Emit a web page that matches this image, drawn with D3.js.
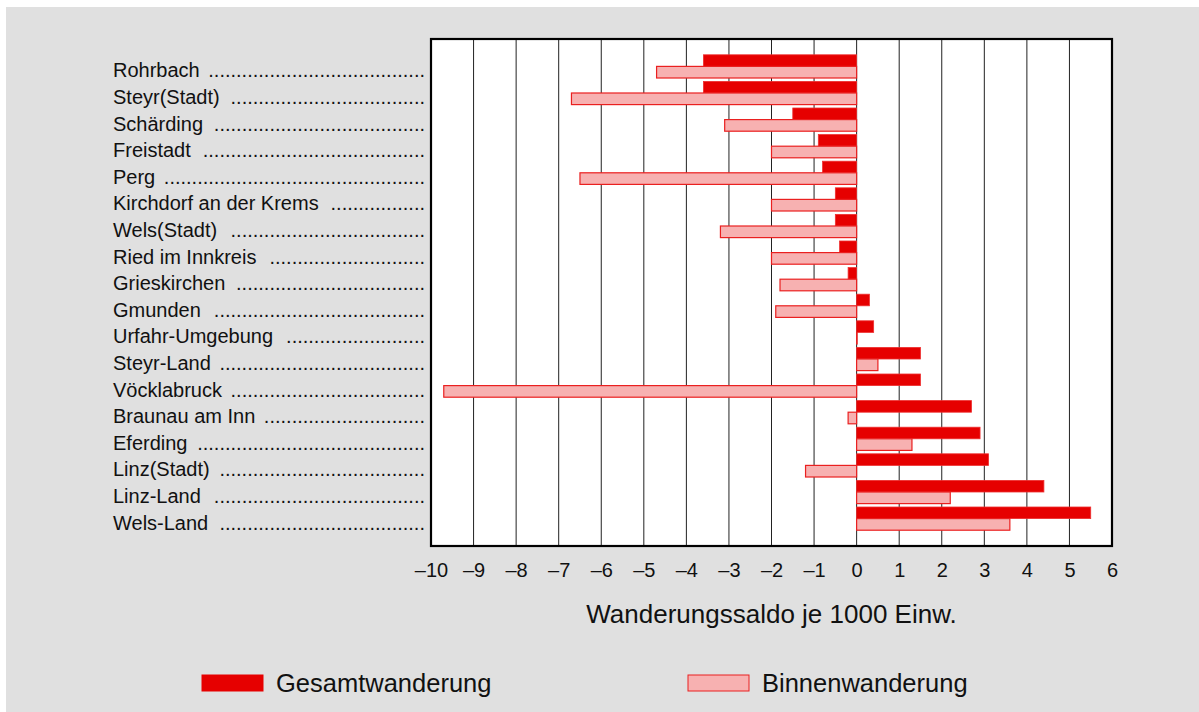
<!DOCTYPE html>
<html>
<head>
<meta charset="utf-8">
<script src="https://cdn.jsdelivr.net/npm/d3@7"></script>
<style>
  html, body { margin: 0; padding: 0; background: #fff; }
  svg { display: block; font-family: "Liberation Sans", Arial, sans-serif; }
</style>
</head>
<body>
<svg id="chart" width="1199" height="712"></svg>
<script>
// Districts, top to bottom
const districts = [
  "Rohrbach", "Steyr(Stadt)", "Schärding", "Freistadt", "Perg",
  "Kirchdorf an der Krems", "Wels(Stadt)", "Ried im Innkreis", "Grieskirchen",
  "Gmunden", "Urfahr-Umgebung", "Steyr-Land", "Vöcklabruck", "Braunau am Inn",
  "Eferding", "Linz(Stadt)", "Linz-Land", "Wels-Land"
];
// Gesamtwanderung (per 1000 inhabitants)
const gesamt = [
  -3.6, -3.6, -1.5, -0.9, -0.8,
  -0.5, -0.5, -0.4, -0.2,
  0.3, 0.4, 1.5, 1.5, 2.7,
  2.9, 3.1, 4.4, 5.5
];
// Binnenwanderung (per 1000 inhabitants)
const binnen = [
  -4.7, -6.7, -3.1, -2.0, -6.5,
  -2.0, -3.2, -2.0, -1.8,
  -1.9, 0.0, 0.5, -9.7, -0.2,
  1.3, -1.2, 2.2, 3.6
];
const xTicks = [-10, -9, -8, -7, -6, -5, -4, -3, -2, -1, 0, 1, 2, 3, 4, 5, 6];
const seriesNames = ["Gesamtwanderung", "Binnenwanderung"];

const RED = "#e60000", PINK = "#f7b1b1";

const svg = d3.select("#chart");

// grey panel
svg.append("rect")
  .attr("x", 6).attr("y", 7)
  .attr("width", 1199 - 6).attr("height", 712 - 7)
  .attr("fill", "#e0e0e0");

const plot = { left: 431, right: 1112, top: 39, bottom: 546 };

const x = d3.scaleLinear().domain([-10, 6]).range([plot.left, plot.right]);
const y = d3.scalePoint().domain(districts).range([plot.top, plot.bottom]).padding(1.03);
const barH = 11.6;

// plot background
svg.append("rect")
  .attr("x", plot.left).attr("y", plot.top)
  .attr("width", plot.right - plot.left).attr("height", plot.bottom - plot.top)
  .attr("fill", "#fff");

// vertical grid lines
svg.append("g")
  .selectAll("line")
  .data(xTicks)
  .enter()
  .append("line")
  .attr("x1", d => x(d)).attr("x2", d => x(d))
  .attr("y1", plot.top).attr("y2", plot.bottom)
  .attr("stroke", "#222")
  .attr("stroke-width", 1);

// Gesamt bars (upper)
svg.append("g")
  .selectAll("rect")
  .data(districts)
  .enter()
  .append("rect")
  .attr("x", (d, i) => Math.min(x(0), x(gesamt[i])))
  .attr("y", d => y(d) - barH)
  .attr("width", (d, i) => Math.abs(x(gesamt[i]) - x(0)))
  .attr("height", barH)
  .attr("fill", RED)
  .attr("stroke", "#ee3030")
  .attr("stroke-width", 0.8);

// Binnen bars (lower)
svg.append("g")
  .selectAll("rect")
  .data(districts)
  .enter()
  .append("rect")
  .attr("x", (d, i) => Math.min(x(0), x(binnen[i])))
  .attr("y", d => y(d))
  .attr("width", (d, i) => Math.max(0.5, Math.abs(x(binnen[i]) - x(0))))
  .attr("height", barH)
  .attr("fill", PINK)
  .attr("stroke", "#ea2020")
  .attr("stroke-width", 1.2);

// frame
svg.append("rect")
  .attr("x", plot.left).attr("y", plot.top)
  .attr("width", plot.right - plot.left).attr("height", plot.bottom - plot.top)
  .attr("fill", "none")
  .attr("stroke", "#000")
  .attr("stroke-width", 2.2);

// x axis tick labels
const xAxis = d3.axisBottom(x)
  .tickValues(xTicks)
  .tickSize(0)
  .tickPadding(16.5)
  .tickFormat(d => d < 0 ? "\u2013" + Math.abs(d) : d);

const gx = svg.append("g")
  .attr("transform", `translate(0,${plot.bottom})`)
  .call(xAxis);
gx.select(".domain").remove();
gx.selectAll("text")
  .attr("font-size", 20)
  .attr("font-family", "'Liberation Sans', Arial, sans-serif")
  .attr("fill", "#111");

// axis title
svg.append("text")
  .attr("x", (plot.left + plot.right) / 2)
  .attr("y", 623)
  .attr("text-anchor", "middle")
  .attr("font-size", 26)
  .attr("fill", "#111")
  .text("Wanderungssaldo je 1000 Einw.");

// category labels with dot leaders
const labelX = 113, leaderEnd = 425;
const lg = svg.append("g").attr("font-size", 20).attr("fill", "#111");

const probe = lg.append("text").text("..........");
const dotW = probe.node().getComputedTextLength() / 10;
probe.remove();

districts.forEach(name => {
  const yy = y(name) + 11;
  const t = lg.append("text")
    .attr("x", labelX).attr("y", yy)
    .text(name);
  const endX = labelX + t.node().getComputedTextLength() + 8;
  const n = Math.max(0, Math.floor((leaderEnd - endX) / dotW));
  lg.append("text")
    .attr("x", leaderEnd).attr("y", yy)
    .attr("text-anchor", "end")
    .text(".".repeat(n));
});

// legend
const legend = svg.append("g");
const legendItems = [
  { name: seriesNames[0], fill: RED, stroke: RED, x: 202 },
  { name: seriesNames[1], fill: PINK, stroke: "#ea2020", x: 688 }
];
legendItems.forEach(it => {
  legend.append("rect")
    .attr("x", it.x).attr("y", 675)
    .attr("width", 61).attr("height", 16)
    .attr("fill", it.fill)
    .attr("stroke", it.stroke)
    .attr("stroke-width", 1);
  legend.append("text")
    .attr("x", it.x + 74).attr("y", 692)
    .attr("font-size", 25.5)
    .attr("fill", "#111")
    .text(it.name);
});
</script>
</body>
</html>
